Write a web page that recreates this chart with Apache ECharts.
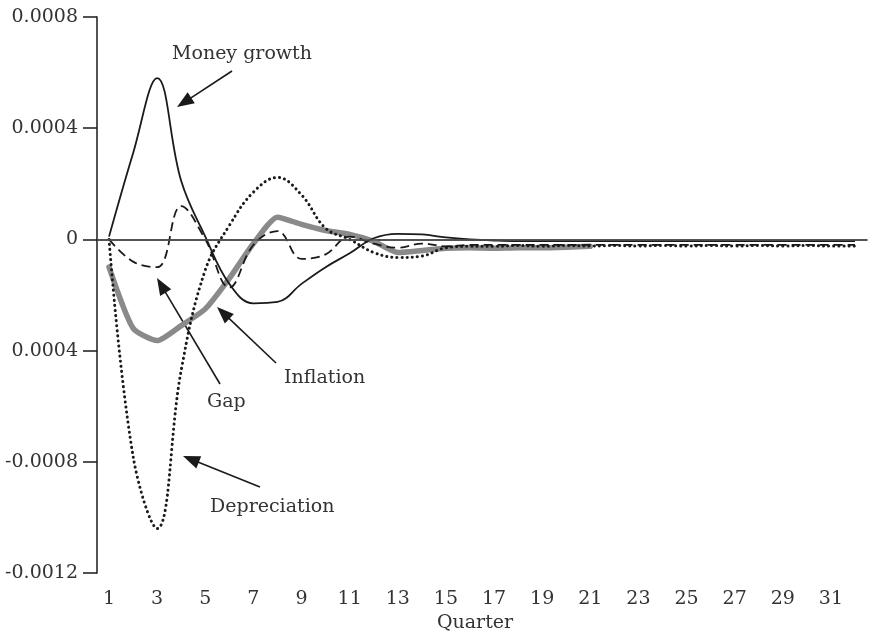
<!DOCTYPE html>
<html>
<head>
<meta charset="utf-8">
<script src="https://cdn.jsdelivr.net/npm/echarts@6/dist/echarts.min.js"></script>
<style>
  html, body { margin: 0; padding: 0; background: #fff; }
  #chart { width: 869px; height: 635px; }
</style>
</head>
<body>
<div id="chart"></div>
<script>
// Impulse responses by quarter
const quarters = ['1','2','3','4','5','6','7','8','9','10','11','12','13','14','15','16',
                  '17','18','19','20','21','22','23','24','25','26','27','28','29','30','31','32'];

const moneyGrowth = [0.00001, 0.00031, 0.00058, 0.00021, 0.00001, -0.00016, -0.00023, -0.000225,
  -0.00016, -0.0001, -0.00005, 0.000004, 0.00002, 0.000018, 0.000007, 0.0,
  -0.000004, -0.000006, -0.000006, -0.000006, -0.000006, -0.000006, -0.000006, -0.000006,
  -0.000006, -0.000006, -0.000006, -0.000006, -0.000006, -0.000006, -0.000006, -0.000006];

const depreciation = [0, -0.00078, -0.00104, -0.00047, -0.00011, 0.00005, 0.00017, 0.000223,
  0.00016, 0.00004, 0, -0.000047, -0.000065, -0.00006, -0.00003, -0.000025,
  -0.000025, -0.000022, -0.000025, -0.000022, -0.000024, -0.000022, -0.000024, -0.000022,
  -0.000024, -0.000022, -0.000024, -0.000022, -0.000024, -0.000022, -0.000024, -0.000024];

const gap = [0, -0.00008, -0.0001, 0.00012, 0, -0.000173, -0.00002, 0.00003,
  -0.00007, -0.000054, 0.00001, -0.000015, -0.00003, -0.000015, -0.000025, -0.00002,
  -0.00002, -0.00002, -0.00002, -0.00002, -0.00002, -0.00002, -0.00002, -0.00002,
  -0.00002, -0.00002, -0.00002, -0.00002, -0.00002, -0.00002, -0.00002, -0.00002];

const inflation = [-0.0001, -0.00032, -0.000364, -0.00031, -0.00025, -0.00014, -0.000015, 0.00008,
  0.000054, 0.000032, 0.000018, -0.000007, -0.000047, -0.00004, -0.000032, -0.00003,
  -0.000032, -0.00003, -0.00003, -0.000028, -0.000025];

// y tick labels as printed on the axis (bottom to top)
const yTickLabels = ['-0.0012', '-0.0008', '0.0004', '0', '0.0004', '0.0008'];

// Callout labels with their arrows (screen positions)
const callouts = [
  { text: 'Money growth', x: 172, y: 54,  tail: [232, 71],  tip: [177, 107] },
  { text: 'Gap',          x: 207, y: 402, tail: [220, 384], tip: [157, 278] },
  { text: 'Inflation',    x: 284, y: 378, tail: [276, 363], tip: [217, 307] },
  { text: 'Depreciation', x: 210, y: 507, tail: [260, 487], tip: [183, 456] }
];

const FONT = '"DejaVu Serif", "Liberation Serif", serif';
const FS = 19;
const INK = '#1a1a1a';
const TEXT = '#333';

function arrow(c) {
  const [x1, y1] = c.tail, [x2, y2] = c.tip;
  const dx = x2 - x1, dy = y2 - y1, len = Math.hypot(dx, dy);
  const ux = dx / len, uy = dy / len;
  const hl = 17, hw = 6.5;
  const bx = x2 - ux * hl, by = y2 - uy * hl;
  return [
    { type: 'line', silent: true,
      shape: { x1: x1, y1: y1, x2: bx + ux * 3, y2: by + uy * 3 },
      style: { stroke: INK, lineWidth: 1.6 } },
    { type: 'polygon', silent: true,
      shape: { points: [[x2, y2], [bx - uy * hw, by + ux * hw], [bx + uy * hw, by - ux * hw]] },
      style: { fill: INK } }
  ];
}

const graphics = [];
callouts.forEach(c => {
  graphics.push({ type: 'text', silent: true, x: c.x, y: c.y,
    style: { text: c.text, font: FS + 'px ' + FONT, fill: TEXT, align: 'left', verticalAlign: 'middle' } });
  arrow(c).forEach(g => graphics.push(g));
});

const chart = echarts.init(document.getElementById('chart'), null, { renderer: 'canvas' });

chart.setOption({
  animation: false,
  backgroundColor: '#fff',
  grid: { left: 97, right: 2, top: 17, bottom: 62, containLabel: false, outerBoundsMode: 'none' },
  xAxis: {
    type: 'category',
    data: quarters,
    boundaryGap: true,
    name: 'Quarter',
    nameLocation: 'middle',
    nameGap: 40,
    nameTextStyle: { fontFamily: FONT, fontSize: FS, color: TEXT, padding: [0, 14, 0, 0] },
    axisLine: { lineStyle: { color: INK, width: 1.5 } },
    axisTick: { interval: 0, length: 11, alignWithLabel: false, lineStyle: { color: INK, width: 1.5 } },
    axisLabel: { interval: 1, margin: 17, fontFamily: FONT, fontSize: FS, color: TEXT },
    splitLine: { show: false }
  },
  yAxis: {
    type: 'value',
    min: -0.0012,
    max: 0.0008,
    interval: 0.0004,
    axisLine: { show: true, lineStyle: { color: INK, width: 1.5 } },
    axisTick: { show: true, length: 14, lineStyle: { color: INK, width: 1.5 } },
    axisLabel: {
      margin: 19, fontFamily: FONT, fontSize: FS, color: TEXT,
      formatter: v => yTickLabels[Math.round(v / 0.0004) + 3]
    },
    splitLine: { show: false }
  },
  series: [
    {
      name: 'Inflation', type: 'line', data: inflation, symbol: 'none', smooth: 0.2, z: 2,
      lineStyle: { color: '#8a8a8a', width: 5.5, join: 'round', cap: 'round' }
    },
    {
      name: 'Gap', type: 'line', data: gap, symbol: 'none', smooth: 0.4, z: 3,
      lineStyle: { color: INK, width: 1.8, type: [9, 5] }
    },
    {
      name: 'Depreciation', type: 'line', data: depreciation, symbol: 'none', smooth: 0.4, z: 3,
      lineStyle: { color: INK, width: 3, type: [0.1, 5], cap: 'round' }
    },
    {
      name: 'Money growth', type: 'line', data: moneyGrowth, symbol: 'none', smooth: 0.4, z: 4,
      lineStyle: { color: INK, width: 1.8 },
      markLine: {
        silent: true, symbol: ['none', 'none'], label: { show: false },
        lineStyle: { color: '#555', width: 1.5, type: 'solid' },
        data: [{ yAxis: 0 }]
      }
    }
  ],
  graphic: graphics
});
</script>
</body>
</html>
